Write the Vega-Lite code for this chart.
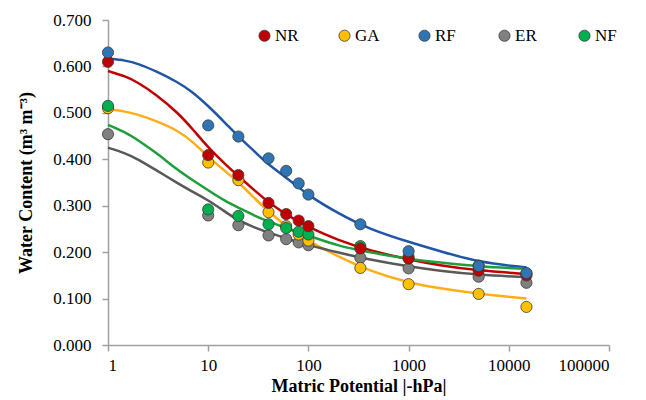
{
  "$schema": "https://vega.github.io/schema/vega-lite/v6.json",
  "autosize": "none",
  "width": 501,
  "height": 325,
  "padding": {"left": 108, "top": 20, "right": 37, "bottom": 55},
  "background": "white",
  "config": {
    "view": {"stroke": null},
    "font": "Liberation Serif",
    "axis": {"labelFont": "Liberation Serif", "titleFont": "Liberation Serif"},
    "legend": {"labelFont": "Liberation Serif"}
  },
  "datasets": {
    "pts": [
      {"s": "NR", "x": 1, "y": 0.610}, {"s": "NR", "x": 10, "y": 0.409}, {"s": "NR", "x": 20, "y": 0.366}, {"s": "NR", "x": 40, "y": 0.306}, {"s": "NR", "x": 60, "y": 0.282}, {"s": "NR", "x": 80, "y": 0.268}, {"s": "NR", "x": 100, "y": 0.256}, {"s": "NR", "x": 330, "y": 0.208}, {"s": "NR", "x": 1000, "y": 0.186}, {"s": "NR", "x": 5000, "y": 0.160}, {"s": "NR", "x": 15000, "y": 0.150},
      {"s": "GA", "x": 1, "y": 0.510}, {"s": "GA", "x": 10, "y": 0.393}, {"s": "GA", "x": 20, "y": 0.355}, {"s": "GA", "x": 40, "y": 0.286}, {"s": "GA", "x": 60, "y": 0.256}, {"s": "GA", "x": 80, "y": 0.238}, {"s": "GA", "x": 100, "y": 0.225}, {"s": "GA", "x": 330, "y": 0.166}, {"s": "GA", "x": 1000, "y": 0.131}, {"s": "GA", "x": 5000, "y": 0.110}, {"s": "GA", "x": 15000, "y": 0.082},
      {"s": "RF", "x": 1, "y": 0.630}, {"s": "RF", "x": 10, "y": 0.473}, {"s": "RF", "x": 20, "y": 0.449}, {"s": "RF", "x": 40, "y": 0.402}, {"s": "RF", "x": 60, "y": 0.375}, {"s": "RF", "x": 80, "y": 0.348}, {"s": "RF", "x": 100, "y": 0.324}, {"s": "RF", "x": 330, "y": 0.260}, {"s": "RF", "x": 1000, "y": 0.202}, {"s": "RF", "x": 5000, "y": 0.170}, {"s": "RF", "x": 15000, "y": 0.155},
      {"s": "ER", "x": 1, "y": 0.454}, {"s": "ER", "x": 10, "y": 0.279}, {"s": "ER", "x": 20, "y": 0.258}, {"s": "ER", "x": 40, "y": 0.236}, {"s": "ER", "x": 60, "y": 0.228}, {"s": "ER", "x": 80, "y": 0.221}, {"s": "ER", "x": 100, "y": 0.215}, {"s": "ER", "x": 330, "y": 0.188}, {"s": "ER", "x": 1000, "y": 0.165}, {"s": "ER", "x": 5000, "y": 0.147}, {"s": "ER", "x": 15000, "y": 0.134},
      {"s": "NF", "x": 1, "y": 0.515}, {"s": "NF", "x": 10, "y": 0.292}, {"s": "NF", "x": 20, "y": 0.278}, {"s": "NF", "x": 40, "y": 0.260}, {"s": "NF", "x": 60, "y": 0.252}, {"s": "NF", "x": 80, "y": 0.244}, {"s": "NF", "x": 100, "y": 0.238}, {"s": "NF", "x": 330, "y": 0.213}, {"s": "NF", "x": 1000, "y": 0.190}, {"s": "NF", "x": 5000, "y": 0.171}, {"s": "NF", "x": 15000, "y": 0.154}
    ],
    "fit": [
      {"s": "NR", "x": 1, "y": 0.590}, {"s": "NR", "x": 1.5, "y": 0.579}, {"s": "NR", "x": 2, "y": 0.565}, {"s": "NR", "x": 3, "y": 0.540}, {"s": "NR", "x": 5, "y": 0.500}, {"s": "NR", "x": 7, "y": 0.465}, {"s": "NR", "x": 10, "y": 0.425}, {"s": "NR", "x": 15, "y": 0.388}, {"s": "NR", "x": 20, "y": 0.364}, {"s": "NR", "x": 30, "y": 0.330}, {"s": "NR", "x": 40, "y": 0.307}, {"s": "NR", "x": 70, "y": 0.272}, {"s": "NR", "x": 100, "y": 0.254}, {"s": "NR", "x": 200, "y": 0.225}, {"s": "NR", "x": 400, "y": 0.204}, {"s": "NR", "x": 1000, "y": 0.184}, {"s": "NR", "x": 2000, "y": 0.172}, {"s": "NR", "x": 5000, "y": 0.160}, {"s": "NR", "x": 15000, "y": 0.153},
      {"s": "GA", "x": 1, "y": 0.508}, {"s": "GA", "x": 1.5, "y": 0.503}, {"s": "GA", "x": 2, "y": 0.496}, {"s": "GA", "x": 3, "y": 0.483}, {"s": "GA", "x": 5, "y": 0.462}, {"s": "GA", "x": 7, "y": 0.438}, {"s": "GA", "x": 10, "y": 0.405}, {"s": "GA", "x": 15, "y": 0.373}, {"s": "GA", "x": 20, "y": 0.351}, {"s": "GA", "x": 30, "y": 0.313}, {"s": "GA", "x": 40, "y": 0.287}, {"s": "GA", "x": 70, "y": 0.245}, {"s": "GA", "x": 100, "y": 0.224}, {"s": "GA", "x": 200, "y": 0.190}, {"s": "GA", "x": 400, "y": 0.160}, {"s": "GA", "x": 1000, "y": 0.134}, {"s": "GA", "x": 2000, "y": 0.122}, {"s": "GA", "x": 5000, "y": 0.110}, {"s": "GA", "x": 15000, "y": 0.100},
      {"s": "RF", "x": 1, "y": 0.617}, {"s": "RF", "x": 1.5, "y": 0.613}, {"s": "RF", "x": 2, "y": 0.606}, {"s": "RF", "x": 3, "y": 0.590}, {"s": "RF", "x": 5, "y": 0.566}, {"s": "RF", "x": 7, "y": 0.545}, {"s": "RF", "x": 10, "y": 0.515}, {"s": "RF", "x": 15, "y": 0.477}, {"s": "RF", "x": 20, "y": 0.449}, {"s": "RF", "x": 30, "y": 0.414}, {"s": "RF", "x": 40, "y": 0.388}, {"s": "RF", "x": 70, "y": 0.350}, {"s": "RF", "x": 100, "y": 0.322}, {"s": "RF", "x": 200, "y": 0.283}, {"s": "RF", "x": 400, "y": 0.250}, {"s": "RF", "x": 1000, "y": 0.222}, {"s": "RF", "x": 2000, "y": 0.203}, {"s": "RF", "x": 5000, "y": 0.178}, {"s": "RF", "x": 15000, "y": 0.167},
      {"s": "ER", "x": 1, "y": 0.425}, {"s": "ER", "x": 1.5, "y": 0.413}, {"s": "ER", "x": 2, "y": 0.400}, {"s": "ER", "x": 3, "y": 0.377}, {"s": "ER", "x": 5, "y": 0.348}, {"s": "ER", "x": 7, "y": 0.330}, {"s": "ER", "x": 10, "y": 0.312}, {"s": "ER", "x": 15, "y": 0.286}, {"s": "ER", "x": 20, "y": 0.268}, {"s": "ER", "x": 30, "y": 0.252}, {"s": "ER", "x": 40, "y": 0.242}, {"s": "ER", "x": 70, "y": 0.225}, {"s": "ER", "x": 100, "y": 0.215}, {"s": "ER", "x": 200, "y": 0.199}, {"s": "ER", "x": 400, "y": 0.184}, {"s": "ER", "x": 1000, "y": 0.169}, {"s": "ER", "x": 2000, "y": 0.160}, {"s": "ER", "x": 5000, "y": 0.151}, {"s": "ER", "x": 15000, "y": 0.146},
      {"s": "NF", "x": 1, "y": 0.474}, {"s": "NF", "x": 1.5, "y": 0.458}, {"s": "NF", "x": 2, "y": 0.441}, {"s": "NF", "x": 3, "y": 0.415}, {"s": "NF", "x": 5, "y": 0.376}, {"s": "NF", "x": 7, "y": 0.355}, {"s": "NF", "x": 10, "y": 0.333}, {"s": "NF", "x": 15, "y": 0.309}, {"s": "NF", "x": 20, "y": 0.296}, {"s": "NF", "x": 30, "y": 0.277}, {"s": "NF", "x": 40, "y": 0.266}, {"s": "NF", "x": 70, "y": 0.246}, {"s": "NF", "x": 100, "y": 0.236}, {"s": "NF", "x": 200, "y": 0.213}, {"s": "NF", "x": 400, "y": 0.200}, {"s": "NF", "x": 1000, "y": 0.185}, {"s": "NF", "x": 2000, "y": 0.178}, {"s": "NF", "x": 5000, "y": 0.169}, {"s": "NF", "x": 15000, "y": 0.164}
    ]
  },
  "encoding": {
    "x": {
      "field": "x", "type": "quantitative",
      "scale": {"type": "log", "domain": [1, 100000], "nice": false},
      "axis": {
        "title": "Matric Potential |-hPa|",
        "values": [1, 10, 100, 1000, 10000, 100000],
        "format": "d",
        "grid": false,
        "domainColor": "#a0a0a0", "domainWidth": 1.5,
        "tickColor": "#a0a0a0", "tickWidth": 1.5, "tickSize": 6,
        "labelFont": "Liberation Serif", "labelFontSize": 17, "labelColor": "#000000", "labelPadding": 6,
        "titleFont": "Liberation Serif", "titleFontSize": 18, "titleFontWeight": "bold", "titleColor": "#000000", "titlePadding": 4
      }
    },
    "y": {
      "field": "y", "type": "quantitative",
      "scale": {"domain": [0, 0.7], "nice": false, "zero": true},
      "axis": {
        "title": "Water Content (m³ m⁻³)",
        "values": [0, 0.1, 0.2, 0.3, 0.4, 0.5, 0.6, 0.7],
        "format": ".3f",
        "grid": false,
        "domainColor": "#a0a0a0", "domainWidth": 1.5,
        "tickColor": "#a0a0a0", "tickWidth": 1.5, "tickSize": 6,
        "labelFont": "Liberation Serif", "labelFontSize": 17, "labelColor": "#000000", "labelPadding": 11,
        "titleFont": "Liberation Serif", "titleFontSize": 18, "titleFontWeight": "bold", "titleColor": "#000000", "titlePadding": 17
      }
    }
  },
  "layer": [
    {
      "data": {"name": "fit"},
      "mark": {"type": "line", "interpolate": "basis", "strokeWidth": 2.5},
      "encoding": {
        "color": {
          "field": "s", "type": "nominal",
          "scale": {"domain": ["NR", "GA", "RF", "ER", "NF"], "range": ["#c00000", "#ffad1a", "#1f56a8", "#595959", "#1f9e3a"]},
          "legend": null
        },
        "strokeWidth": {
          "field": "s", "type": "nominal",
          "scale": {"domain": ["NR", "GA", "RF", "ER", "NF"], "range": [3.5, 2.5, 2.5, 2.75, 2.5]},
          "legend": null
        }
      }
    },
    {
      "data": {"name": "pts"},
      "mark": {"type": "point", "shape": "circle", "filled": true, "opacity": 1, "size": 125, "stroke": "#3a3a3a", "strokeWidth": 0.8},
      "encoding": {
        "color": {
          "field": "s", "type": "nominal",
          "sort": ["NR", "GA", "RF", "ER", "NF"],
          "scale": {"domain": ["NR", "GA", "RF", "ER", "NF"], "range": ["#c00000", "#ffc000", "#2e75b6", "#808080", "#00b050"]},
          "legend": {
            "title": null,
            "orient": "none",
            "legendX": 148,
            "legendY": 7,
            "direction": "horizontal",
            "columns": 5,
            "gridAlign": "all",
            "columnPadding": 36,
            "symbolType": "circle",
            "symbolSize": 125,
            "symbolStrokeColor": "#3a3a3a",
            "symbolStrokeWidth": 0.8,
            "symbolOpacity": 1,
            "labelFont": "Liberation Serif",
            "labelFontSize": 17,
            "labelColor": "#000000",
            "labelOffset": 2
          }
        },
        "order": {"field": "s", "sort": "ascending"}
      }
    }
  ],
  "resolve": {"scale": {"color": "independent"}}
}
